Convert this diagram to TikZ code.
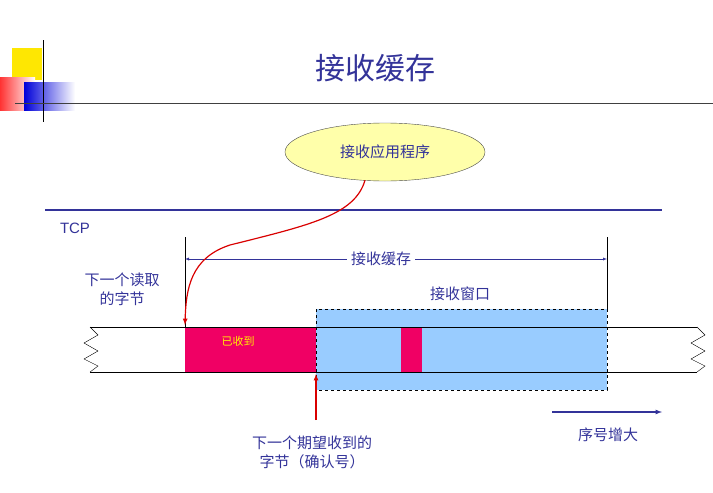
\documentclass[tikz,border=0pt]{standalone}
\usepackage{fontspec}
\setmainfont{Liberation Sans}
\newfontfamily\cjk{Noto Sans CJK SC}
\usetikzlibrary{positioning,calc,shapes.geometric}
\definecolor{ttl}{RGB}{51,51,153}
\definecolor{rcvd}{RGB}{240,0,100}
\definecolor{wnd}{RGB}{153,204,255}
\definecolor{ell}{RGB}{255,255,170}
\begin{document}
\begin{tikzpicture}
                    [x=1pt,y=-1pt,>=latex,
                     txt/.style={align=center,font=\cjk\fontsize{15}{19}\selectfont,text=ttl,inner sep=1pt},
                     ptr/.style={->,very thick,draw=red!85!black}]

                    \useasboundingbox (0,0) rectangle (713,493);
                    % corner decoration
                    \fill[yellow!90!orange] (12,48) rectangle (42,80);
                    \shade[left color=red!80,right color=white] (0,77) rectangle (35,110);
                    \shade[left color=blue!85!black,right color=white] (24,82) rectangle (75,110);
                    \draw[thick] (43,40) -- (43,122);
                    \draw[thick,black!75] (15,103) -- (713,103);

                    \node[font=\cjk\fontsize{30}{36}\selectfont,text=ttl] (title) at (375,68) {接收缓存};
                    \node[ellipse,draw=black!70,fill=ell,minimum width=200,minimum height=58,txt] (app) at (385,152) {接收应用程序};

                    \draw[ttl,very thick] (45,210) -- (662,210);
                    \node[font=\fontsize{15}{18}\selectfont,text=ttl] (tcp) at (75,228) {TCP};

                    % window and strip
                    \fill[wnd] (316,309) rectangle (607,390);
                    \draw[dashed] (316,309) rectangle (607,390);
                    \fill[rcvd] (185,327) rectangle (316,372);
                    \fill[rcvd] (401,327) rectangle (422,372);
                    \draw (90,327) -- (697,327);
                    \draw (90,372) -- (697,372);
                    \draw (90,327) -- (98,335) -- (84,343) -- (98,351) -- (84,359) -- (98,366) -- (90,372);
                    \draw (697,327) -- (705,335) -- (691,343) -- (705,351) -- (691,359) -- (705,366) -- (697,372);
                    \node[font=\cjk\fontsize{11}{13}\selectfont,text=yellow] (got) at (238,341) {已收到};

                    % buffer dimension
                    \coordinate (bl) at (185,237);
                    \coordinate (br) at (607,237);
                    \draw (bl) -- (185,327);
                    \draw (br) -- (607,310);
                    \draw[<->,ttl] (185,259) -- (607,259);
                    \node[txt,fill=white,inner xsep=4pt] (buf) at (381,259) {接收缓存};
                    \node[txt] (wlab) at (460,294) {接收窗口};
                    \node[txt] (nxtrd) at (122,289) {下一个读取\\的字节};

                    \draw[ptr] (app.south) ++(-20,-1) .. controls (355,215) and (310,225) .. (230,245) .. controls (190,258) and (186,290) .. (185,325);
                    \coordinate (ackfoot) at (316,420);
                    \draw[ptr] (ackfoot) -- (316,374);
                    \node[txt] (ack) at (312,452) {下一个期望收到的\\字节（确认号）};

                    \coordinate (sq0) at (552,412);
                    \coordinate (sq1) at (662,412);
                    \draw[->,ttl,very thick] (sq0) -- (sq1);
                    \node[txt] (seq) at (608,435) {序号增大};
                \end{tikzpicture}
\end{document}
